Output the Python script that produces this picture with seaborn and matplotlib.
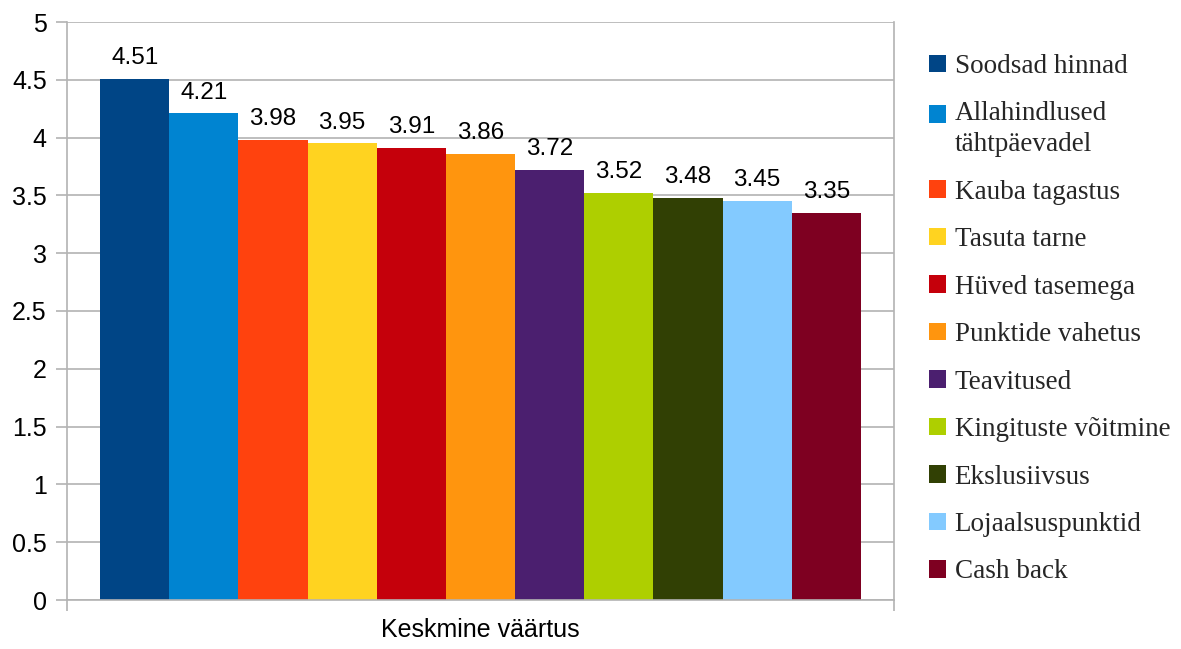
import matplotlib
matplotlib.use('Agg')
import matplotlib.pyplot as plt
from matplotlib.ticker import FuncFormatter
from matplotlib.legend_handler import HandlerPatch
from matplotlib.patches import Rectangle
import seaborn as sns
import pandas as pd

# chart data
category = 'Keskmine väärtus'
series = ['Soodsad hinnad', 'Allahindlused\ntähtpäevadel', 'Kauba tagastus',
          'Tasuta tarne', 'Hüved tasemega', 'Punktide vahetus', 'Teavitused',
          'Kingituste võitmine', 'Ekslusiivsus', 'Lojaalsuspunktid', 'Cash back']
values = [4.51, 4.21, 3.98, 3.95, 3.91, 3.86, 3.72, 3.52, 3.48, 3.45, 3.35]
colors = ['#004586', '#0084d1', '#ff420e', '#ffd320', '#c5000b', '#ff950e',
          '#4b1f6f', '#aecf00', '#314004', '#83caff', '#7e0021']
yticks = [0, 0.5, 1, 1.5, 2, 2.5, 3, 3.5, 4, 4.5, 5]

sns.set_style('white')
plt.rcParams['font.family'] = ['Liberation Sans', 'DejaVu Sans']

df = pd.DataFrame({'cat': [category] * len(series), 'series': series, 'value': values})

W, H = 1181, 649
fig = plt.figure(figsize=(W / 100, H / 100), dpi=100)
ax = fig.add_axes([67 / W, 1 - 600 / H, (894 - 67) / W, (600 - 22) / H])

sns.barplot(data=df, x='cat', y='value', hue='series', hue_order=series,
            palette=colors, saturation=1, width=0.92, dodge=True,
            linewidth=0, legend=False, ax=ax)

grey = '#b3b3b3'
ax.set_ylim(0, 5)
ax.set_xlim(-0.5, 0.5)
ax.set_yticks(yticks)
ax.yaxis.set_major_formatter(FuncFormatter(lambda v, p: '{:g}'.format(v)))
ax.yaxis.grid(True, color=grey, linewidth=1.2)
ax.set_axisbelow(True)
ax.set_xlabel('')
ax.set_ylabel('')

for s in ['left', 'bottom', 'right']:
    ax.spines[s].set_color(grey)
    ax.spines[s].set_linewidth(1.2)
ax.spines['top'].set_visible(False)

ax.tick_params(axis='y', direction='out', length=8, width=1.2, color=grey,
               pad=6.5, labelsize=18, labelcolor='black', left=True)
ax.set_xticks([0])
ax.set_xticklabels([category])
ax.set_xticks([-0.5, 0.5], minor=True)
ax.tick_params(axis='x', which='major', length=0, pad=13, labelsize=18, labelcolor='black')
ax.tick_params(axis='x', which='minor', direction='out', length=8, width=1.2,
               color=grey, bottom=True)

for c in ax.containers:
    ax.bar_label(c, fmt='%.2f', padding=7, fontsize=17.5, color='black')


# square for a two-line label sits on the first line
def top_square(legend, orig_handle, xdescent, ydescent, width, height, fontsize):
    return Rectangle((-xdescent, -ydescent + 11.2), width, height)


handles = [c.patches[0] for c in ax.containers]
leg = fig.legend(handles, series, loc='upper left', bbox_to_anchor=(929 / W, 1 - 54 / H),
                 frameon=False, prop={'family': 'Liberation Serif', 'size': 19.5},
                 handlelength=0.62, handleheight=0.62, handletextpad=0.33,
                 labelspacing=0.83, borderpad=0, borderaxespad=0,
                 handler_map={handles[1]: HandlerPatch(patch_func=top_square)})
for t in leg.get_texts():
    t.set_linespacing(1.3)

fig.savefig('out.png', dpi=100)
